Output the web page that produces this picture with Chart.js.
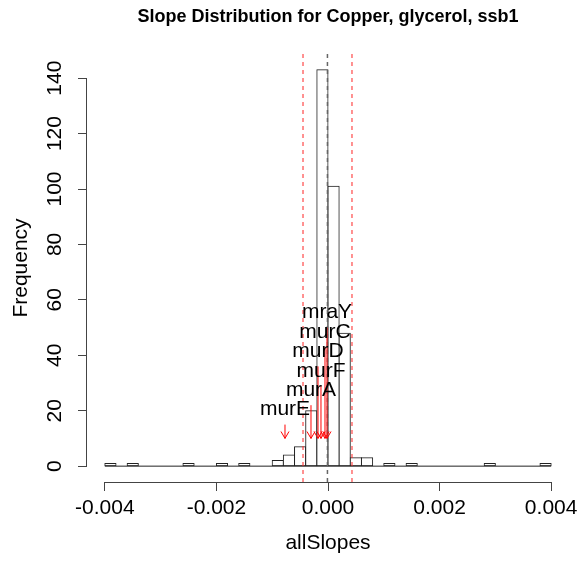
<!DOCTYPE html>
<html>
<head>
<meta charset="utf-8">
<script src="https://cdn.jsdelivr.net/npm/chart.js@4"></script>
<style>
  html, body { margin: 0; padding: 0; background: #fff; }
</style>
</head>
<body>
<canvas id="slopeHist" width="587" height="562"></canvas>
<script>
// ---------- histogram of allSlopes (Copper, glycerol, ssb1) ----------
const binStart = -0.004;
const binWidth = 0.0002;
const counts = [1, 0, 1, 0, 0, 0, 0, 1, 0, 0,
                1, 0, 1, 0, 0, 2, 4, 7, 20, 143,
                101, 48, 3, 3, 0, 1, 0, 1, 0, 0,
                0, 0, 0, 0, 1, 0, 0, 0, 0, 1];

// marked genes: slope, and frequency where the arrow starts
const geneNames = ["murE", "murA", "murF", "murD", "murC", "mraY"];
const geneSlopes = [-0.000771, -0.000305, -0.000126, -0.000179, -0.000054, -0.000018];
const arrowFrom = [15, 22, 29, 36, 43, 50];
const arrowTo = 10;

// cutoff lines (red) and centre line (grey)
const cutoffLines = [-0.000448, 0.000430];
const centreLine = -0.00001;

const xTicks = [-0.004, -0.002, 0, 0.002, 0.004];
const yTicks = [0, 20, 40, 60, 80, 100, 120, 140];
const xRange = [-0.00432, 0.00432];
const yRange = [-5.72, 148.72];

const FONT = "'Liberation Sans', Arial, Helvetica, sans-serif";
const INK = "#444";

const binCenters = counts.map((c, i) => binStart + (i + 0.5) * binWidth);
const histEnd = binStart + counts.length * binWidth;

// R-style extras: axis lines, ablines, arrows, labels, main title
const rExtras = {
    id: "rExtras",
    afterDatasetsDraw(chart) {
        const { ctx, chartArea } = chart;
        const xs = chart.scales.x, ys = chart.scales.y;
        ctx.save();

        // ablines
        ctx.lineWidth = 1.2;
        ctx.setLineDash([4, 4]);
        ctx.strokeStyle = "rgba(255, 40, 40, 0.85)";
        cutoffLines.forEach(v => {
            const px = xs.getPixelForValue(v);
            ctx.beginPath();
            ctx.moveTo(px, chartArea.top);
            ctx.lineTo(px, chartArea.bottom);
            ctx.stroke();
        });
        ctx.strokeStyle = "#666";
        ctx.lineWidth = 1.5;
        const cx = xs.getPixelForValue(centreLine);
        ctx.beginPath();
        ctx.moveTo(cx, chartArea.top);
        ctx.lineTo(cx, chartArea.bottom);
        ctx.stroke();
        ctx.setLineDash([]);

        // arrows
        ctx.strokeStyle = "#ff0000";
        ctx.lineWidth = 1;
        const head = 8, ang = Math.PI / 6;
        geneSlopes.forEach((v, i) => {
            const px = xs.getPixelForValue(v);
            const y0 = ys.getPixelForValue(arrowFrom[i]);
            const y1 = ys.getPixelForValue(arrowTo);
            ctx.beginPath();
            ctx.moveTo(px, y0);
            ctx.lineTo(px, y1);
            ctx.stroke();
            ctx.beginPath();
            ctx.moveTo(px - head * Math.sin(ang), y1 - head * Math.cos(ang));
            ctx.lineTo(px, y1);
            ctx.lineTo(px + head * Math.sin(ang), y1 - head * Math.cos(ang));
            ctx.stroke();
        });

        // gene labels above the arrow starts
        ctx.fillStyle = "#000";
        ctx.font = `21px ${FONT}`;
        ctx.textAlign = "center";
        ctx.textBaseline = "middle";
        geneNames.forEach((name, i) => {
            const px = xs.getPixelForValue(geneSlopes[i]);
            const py = ys.getPixelForValue(arrowFrom[i]) - 15;
            ctx.fillText(name, px, py);
        });
        ctx.restore();
    },
    afterDraw(chart) {
        const { ctx, chartArea } = chart;
        const xs = chart.scales.x, ys = chart.scales.y;
        ctx.save();
        ctx.strokeStyle = INK;
        ctx.lineWidth = 1;
        const by = Math.round(chartArea.bottom) + 0.5;
        ctx.beginPath();
        ctx.moveTo(xs.getPixelForValue(xTicks[0]), by);
        ctx.lineTo(xs.getPixelForValue(xTicks[xTicks.length - 1]), by);
        ctx.stroke();
        const lx = Math.round(chartArea.left) - 0.5;
        ctx.beginPath();
        ctx.moveTo(lx, ys.getPixelForValue(yTicks[0]));
        ctx.lineTo(lx, ys.getPixelForValue(yTicks[yTicks.length - 1]));
        ctx.stroke();

        // main title, centred over the plot region
        ctx.fillStyle = "#000";
        ctx.font = `bold 18px ${FONT}`;
        ctx.textAlign = "center";
        ctx.textBaseline = "middle";
        ctx.fillText("Slope Distribution for Copper, glycerol, ssb1", (chartArea.left + chartArea.right) / 2, 17);
        ctx.restore();
    }
};

new Chart(document.getElementById("slopeHist"), {
    type: "bar",
    data: {
        datasets: [{
            label: "allSlopes",
            data: binCenters.map((x, i) => ({ x: x, y: counts[i] })),
            backgroundColor: "#fff",
            borderColor: "#222",
            borderWidth: 1,
            borderSkipped: false,
            inflateAmount: 0.5,
            barPercentage: 1,
            categoryPercentage: 1,
            order: 2
        }, {
            type: "line",
            label: "base",
            data: [{ x: binStart, y: 0 }, { x: histEnd, y: 0 }],
            borderColor: "#222",
            borderWidth: 1,
            pointRadius: 0,
            order: 1
        }]
    },
    options: {
        responsive: false,
        animation: false,
        layout: { padding: { top: 54, right: 18, bottom: 0, left: 0 } },
        plugins: { legend: { display: false }, tooltip: { enabled: false }, title: { display: false } },
        scales: {
            x: {
                type: "linear",
                min: xRange[0],
                max: xRange[1],
                offset: false,
                afterBuildTicks: s => { s.ticks = xTicks.map(v => ({ value: v })); },
                afterFit: s => { s.height = 80; },
                grid: { offset: false, drawOnChartArea: false, drawTicks: true, tickLength: 9, color: INK },
                border: { display: false },
                ticks: {
                    font: { family: FONT, size: 21 },
                    color: "#000",
                    padding: 5,
                    maxRotation: 0,
                    autoSkip: false,
                    callback: v => Number(v).toFixed(3)
                },
                title: { display: true, text: "allSlopes", font: { family: FONT, size: 21 }, color: "#000", padding: { top: 0, bottom: 6 } }
            },
            y: {
                type: "linear",
                min: yRange[0],
                max: yRange[1],
                afterBuildTicks: s => { s.ticks = yTicks.map(v => ({ value: v })); },
                afterFit: s => { s.width = 87; },
                grid: { offset: false, drawOnChartArea: false, drawTicks: true, tickLength: 9, color: INK },
                border: { display: false },
                ticks: {
                    font: { family: FONT, size: 21 },
                    color: "#000",
                    padding: 5,
                    minRotation: 90,
                    maxRotation: 90,
                    crossAlign: "center",
                    autoSkip: false,
                    callback: v => String(v)
                },
                title: { display: true, text: "Frequency", font: { family: FONT, size: 21 }, color: "#000", padding: { top: 9, bottom: 0 } }
            }
        }
    },
    plugins: [rExtras]
});
</script>
</body>
</html>
